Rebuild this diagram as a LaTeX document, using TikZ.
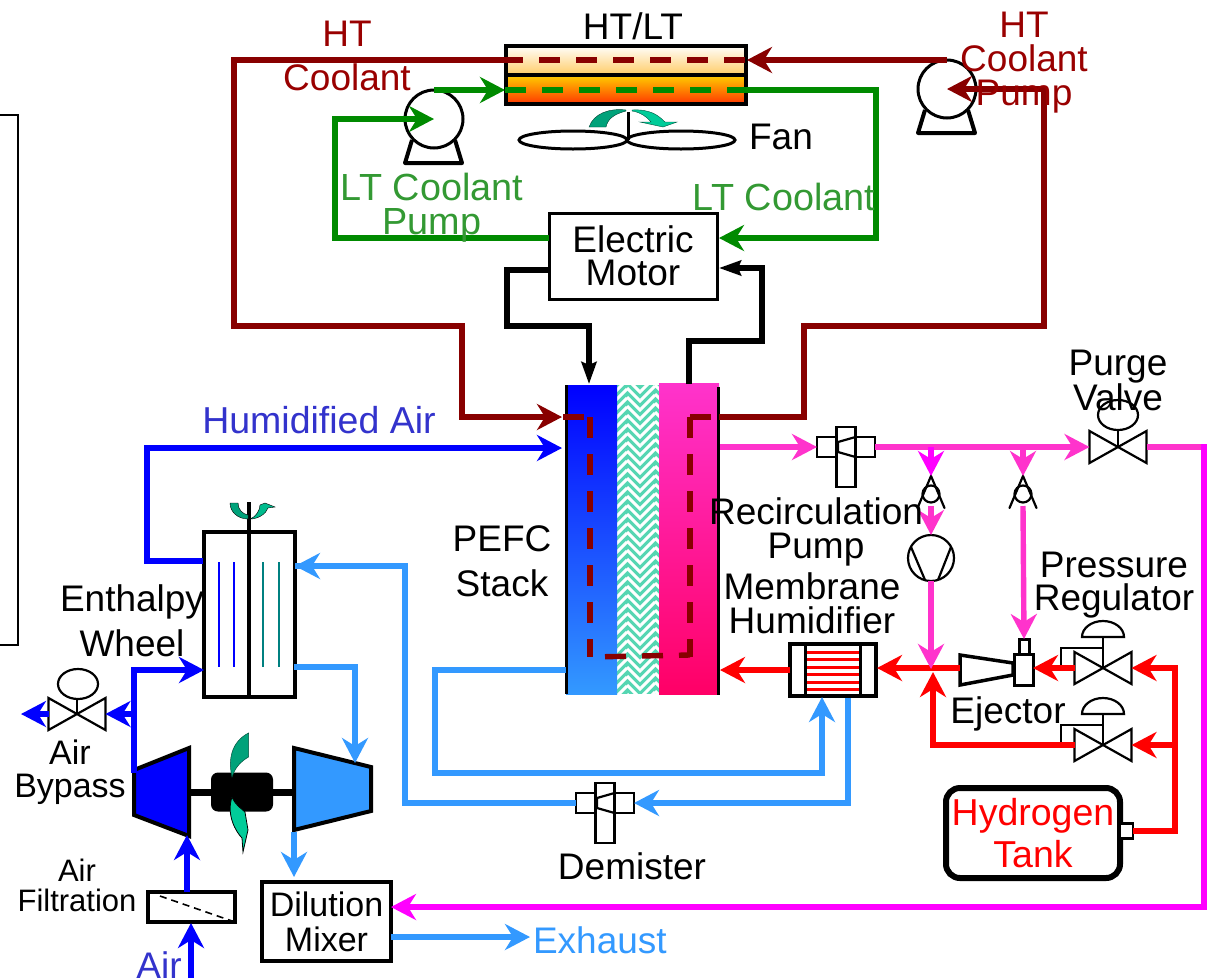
\documentclass[tikz,border=0pt]{standalone}
\usepackage{fontspec}
\setmainfont{Liberation Sans}
\usetikzlibrary{arrows.meta,shapes.geometric}
\definecolor{htc}{HTML}{880000}
\definecolor{lowc}{HTML}{008A00}
\definecolor{airc}{HTML}{0000FF}
\definecolor{exc}{HTML}{3399FF}
\definecolor{anc}{HTML}{FF33CC}
\definecolor{mgc}{HTML}{FF00FF}
\definecolor{h2c}{HTML}{FF0000}
\definecolor{cab}{HTML}{FF0066}
\definecolor{httext}{HTML}{990000}
\definecolor{lttext}{HTML}{339933}
\definecolor{airtext}{HTML}{3333CC}
\definecolor{tealA}{HTML}{00A27A}
\definecolor{tealB}{HTML}{00CC99}
\definecolor{patc}{HTML}{55D6B2}
\definecolor{hxa}{HTML}{FFCC66}
\definecolor{hxb}{HTML}{FFCC00}
\definecolor{hxc}{HTML}{FF3300}
\tikzset{
  x=1pt,y=-1pt,
  every node/.style={outer sep=0pt,inner sep=0pt},
  head/.style={-{Stealth[length=25pt,width=26pt,inset=8pt]}},
  pipe/.style={line width=5.4pt,miter limit=10},
  labelt/.style={font=\fontsize{37}{36}\selectfont,align=center,text=black},
  boxn/.style={draw=black,line width=4pt,rectangle,fill=white},
  thinbox/.style={draw=black,line width=2.2pt,rectangle,fill=white},
  shapeln/.style={draw=black,line width=2.2pt},
  heavyln/.style={draw=black,line width=4pt},
  ghost/.style={rectangle},
  dashpipe/.style={line width=5.4pt,dash pattern=on 21pt off 16pt}
}
\newcommand{\vvalve}[3]{%
  \node[ghost,minimum width=57pt,minimum height=32pt] (#1) at (#2,#3) {};
  \draw[shapeln,fill=white] (#1.north west)--(#1.south west)--(#1.north east)--(#1.south east)--cycle;
}
\newcommand{\checkv}[3]{%
  \node[ghost,minimum width=27pt,minimum height=32pt] (#1) at (#2,#3) {};
  \draw[shapeln,line cap=round] (#1.south west)--(#1.north)--(#1.south east);
  \draw[shapeln] (#2,#3+2) circle[radius=8.5];
}
\newcommand{\pumpsym}[3]{%
  \node[circle,draw=black,line width=3pt,fill=white,minimum size=58pt] (#1) at (#2,#3) {};
  \draw[heavyln,line join=round] (#2-22,#3+21)--(#2-29,#3+44)--(#2+28,#3+44)--(#2+21,#3+21);
}
\newcommand{\sepsym}[3]{%
  \node[ghost,minimum width=58pt,minimum height=20pt] (#1) at (#2,#3) {};
  \node[thinbox,minimum width=19pt,minimum height=60pt] (#1v) at (#2,#3+10) {};
  \draw[shapeln] (#2-9.5,#3-10)--(#2-29,#3-10)--(#2-29,#3+10)--(#2-9.5,#3+10);
  \draw[shapeln] (#2+9.5,#3-10)--(#2+29,#3-10)--(#2+29,#3+10)--(#2+9.5,#3+10);
  \draw[shapeln] (#2+9.5,#3-10)--(#2-8,#3-5)--(#2-8,#3+5)--(#2+9.5,#3+10);
}
\newcommand{\regul}[3]{%
  \vvalve{#1}{#2}{#3}
  \draw[shapeln] (#2,#3)--(#2,#3-31);
  \draw[shapeln,fill=white] (#2-21,#3-31) arc[start angle=180,end angle=0,x radius=21,y radius=-16]--cycle;
  \draw[shapeln] (#2-42,#3)--(#2-42,#3-20)--(#2,#3-20);
}
\begin{document}
\begin{tikzpicture}
\useasboundingbox (0,0) rectangle (1210,978);
% left open frame
\draw[line width=2pt] (0,115)--(18,115)--(18,645)--(0,645);

% heat exchanger
\node[rectangle,minimum width=240pt,minimum height=30pt,top color=white,bottom color=hxa] (hxt) at (626,60) {};
\node[rectangle,minimum width=240pt,minimum height=29pt,top color=hxb,bottom color=hxc] (hxb) at (626,90) {};
\node[draw=black,line width=4pt,minimum width=240pt,minimum height=58pt] (hx) at (626,75) {};
\draw[line width=4pt] (hx.west)--(hx.east);
\coordinate (hxHTw) at (502,60); \coordinate (hxHTe) at (747,60);
\coordinate (hxLTw) at (505,90); \coordinate (hxLTe) at (747,90);
\draw[dashpipe,draw=htc] (hxHTw)--(hxHTe);
\draw[dashpipe,draw=lowc] (hxLTw)--(hxLTe);

% fan
\draw[line width=3pt] (628,112)--(628,140);
\node[ellipse,draw=black,line width=3pt,minimum width=108pt,minimum height=18pt] (fanL) at (573,140) {};
\node[ellipse,draw=black,line width=3pt,minimum width=108pt,minimum height=18pt] (fanR) at (681,140) {};
\fill[tealA,draw=black!60!tealA,line width=.4pt] (589,127) .. controls (594,113) and (610,108) .. (626,110) -- (626,111) .. controls (615,114) and (608,118) .. (606,127) -- cycle;
\fill[tealB,draw=black!60!tealB,line width=.4pt] (632,110) .. controls (650,109) and (658,115) .. (665,122) -- (677,122) -- (663,127) -- (640,122) -- (651,122) .. controls (647,117) and (640,112) .. (632,111) -- cycle;

% pumps
\pumpsym{ltpump}{434}{119}
\pumpsym{htpump}{947}{89}

% stack
\node[rectangle,minimum width=42pt,minimum height=309pt,fill=patc] (memb) at (638,539.5) {};
\begin{scope}
  \clip (617,385) rectangle (659,694);
  \foreach \r in {-2,...,40} \foreach \c in {0,1,2,3} {
    \pgfmathsetmacro{\xa}{617+\c*14-4}
    \pgfmathsetmacro{\ya}{385+\r*9+\c*3}
    \pgfmathsetmacro{\sg}{mod(\c,2)==0?-1:1}
    \draw[white,line width=3pt] (\xa,\ya)--(\xa+14,\ya+\sg*14);
  }
\end{scope}
\node[rectangle,minimum width=51pt,minimum height=309pt,top color=airc,bottom color=exc] (anode) at (591.5,539.5) {};
\node[rectangle,minimum width=60pt,minimum height=311pt,top color=anc,bottom color=cab] (cathode) at (689,538.5) {};
\draw[line width=3pt] (anode.north west)--(anode.south west);
\draw[line width=3pt] (718.5,387)--(718.5,695);
\coordinate (stkHTw) at (563,417); \coordinate (stkHTe) at (719,417);
\draw[dashpipe,draw=htc] (stkHTw)--(590,417);
\draw[dashpipe,draw=htc] (590,417)--(590,657);
\draw[dashpipe,draw=htc,dash phase=22pt] (590,657)--(690,655);
\draw[dashpipe,draw=htc] (690,417)--(690,657);
\draw[dashpipe,draw=htc] (690,417)--(712,417);

% motor
\node[boxn,line width=3pt,minimum width=168pt,minimum height=86pt,labelt] (motor) at (633,256) {Electric\\[-3pt]Motor};
\coordinate (moLTin) at (719,238); \coordinate (moLTout) at (549,238);
\coordinate (moIn) at (719,268); \coordinate (moOut) at (549,270);

% HT loop
\coordinate (stkCoolIn) at (562,417);
\draw[pipe,draw=htc,head] (hxHTw)--(234,60)--(234,326)--(462,326)--(462,417)--(stkCoolIn);
\draw[pipe,draw=htc] (stkHTe)--(804,417)--(804,326)--(1044,326)--(1044,89)--(1000,89);
\draw[pipe,draw=htc,head] (1000,89)--(htpump.center);
\draw[pipe,draw=htc,head] (htpump.north)--(hxHTe |- htpump.north);

% LT loop
\draw[pipe,draw=lowc,head] (ltpump.north)--(hxLTw);
\draw[pipe,draw=lowc,head] (hxLTe)--(876,90)--(876,238)--(moLTin);
\draw[pipe,draw=lowc,head] (moLTout)--(335,238)--(335,119)--(ltpump.center);

% power lines
\coordinate (anTop) at (589,384);
\coordinate (caTop) at (689,384);
\draw[pipe,draw=black,-{Stealth[length=22pt,width=15pt,inset=3pt]}] (moOut)--(507,270)--(507,326)--(589,326)--(anTop);
\draw[pipe,draw=black,-{Stealth[length=22pt,width=15pt,inset=3pt]}] (caTop)--(689,341)--(762,341)--(762,268)--(moIn);

% humidifier
\node[boxn,minimum width=86pt,minimum height=52pt] (humid) at (833,670) {};
\draw[line width=3pt] (805,644)--(805,696) (860,644)--(860,696);
\foreach \y in {652,659.5,667,674.5,682,689.5} \draw[h2c,line width=3pt] (807,\y)--(859,\y);

% separators
\sepsym{recsep}{846}{447}
\sepsym{demist}{605}{803}

% enthalpy wheel
\node[boxn,minimum width=91pt,minimum height=165pt] (wheel) at (249,614.5) {};
\draw[line width=4pt] (249,502)--(249,697);
\foreach \x in {219,234} \draw[airc,line width=2.2pt] (\x,562)--(\x,667);
\foreach \x in {263,279} \draw[teal,line width=2.2pt] (\x,562)--(\x,667);
\fill[tealA,draw=black,line width=.4pt] (230,503) -- (238,503) .. controls (238,510) and (243,514) .. (248,515) -- (248,519) .. controls (238,519) and (230,512) .. (230,503) -- cycle;
\fill[tealB!60!tealA,draw=black,line width=.4pt] (250,519) .. controls (256,517) and (260,510) .. (260,505) -- (265,503) -- (275,507) -- (268,508) .. controls (266,514) and (258,519) .. (250,519) -- cycle;

% compressor / turbine
\node[ghost,minimum width=55pt,minimum height=88pt] (comp) at (161.5,792) {};
\node[ghost,minimum width=77pt,minimum height=84pt] (turb) at (332.5,790) {};
\draw[line width=7pt] (comp.east)--(comp.east -| turb.west);
\draw[heavyln,fill=airc,miter limit=10] (134,770)--(189,748)--(189,836)--(134,815)--cycle;
\draw[heavyln,fill=exc,miter limit=10] (294,748)--(371,767)--(371,811)--(294,830)--cycle;
\node[rectangle,rounded corners=7pt,fill=black,minimum width=62pt,minimum height=39pt] (hub) at (242,792) {};
\fill[tealA,draw=black!50!tealA,line width=.5pt] (248.5,733) -- (248.5,757) .. controls (240,762) and (235,768) .. (232,777) .. controls (228,760) and (231,742) .. (248.5,733) -- cycle;
\fill[tealB,draw=black,line width=.8pt] (232,797) .. controls (236,806) and (241,808) .. (245,812) -- (248,830) -- (243,852) -- (242,838) .. controls (236,832) and (226,815) .. (232,797) -- cycle;

% valves
\vvalve{bypass}{77}{714}
\draw[shapeln] (77,699)--(77,714);
\draw[shapeln,fill=white] (78,684) ellipse[x radius=20,y radius=15];
\vvalve{purge}{1118}{447}
\draw[shapeln] (1118,431)--(1118,447);
\draw[shapeln,fill=white] (1118,415) ellipse[x radius=20,y radius=15];
\checkv{chkA}{931}{492}
\checkv{chkB}{1023}{492}
\node[circle,shapeln,fill=white,minimum size=46pt] (recpump) at (931,558) {};
\draw[shapeln] (911,547)--(925,580) (951,547)--(938,580);
\regul{regA}{1103}{668}
\regul{regB}{1103}{745}

% ejector
\node[rectangle,draw=black,line width=3pt,minimum width=19pt,minimum height=31pt,fill=white] (ejbody) at (1023.5,669.5) {};
\node[rectangle,draw=black,line width=3pt,minimum width=10pt,minimum height=15pt,fill=white] (ejnoz) at (1024,646.5) {};
\node[ghost,minimum width=53pt,minimum height=30pt] (ejcone) at (986.5,668) {};
\draw[draw=black,line width=3.5pt,fill=white] (960,655)--(1013,663)--(1013,675)--(960,685)--cycle;

% tank
\node[rectangle,draw=black,line width=6pt,rounded corners=14pt,minimum width=174pt,minimum height=90pt,fill=white,font=\fontsize{37.5}{42}\selectfont,text=h2c,align=center] (tank) at (1033,833) {Hydrogen\\Tank};
\node[rectangle,draw=black,line width=2.5pt,minimum width=13pt,minimum height=15pt,fill=white] (tankfit) at (1126.5,831) {};

% other boxes
\node[boxn,minimum width=129pt,minimum height=79pt,font=\fontsize{34}{35}\selectfont,align=center] (mixer) at (326.5,921.5) {Dilution\\Mixer};
\node[thinbox,line width=3.5pt,minimum width=87pt,minimum height=30pt] (filter) at (191.5,907) {};
\draw[line width=1.6pt,dash pattern=on 7pt off 5pt] (160,896)--(232,921);

% air
\coordinate (airIn) at (191,978);
\coordinate (filtOut) at (187,892);
\coordinate (compIn) at (187,835);
\coordinate (compOut) at (134,773);
\coordinate (wheelIn) at (204,670);
\coordinate (wheelOut) at (203,561);
\coordinate (stackAirIn) at (562,448);
\coordinate (byJ) at (134,714);
\coordinate (byOut) at (21,714);
\draw[pipe,draw=airc,head] (airIn)--(191,923);
\draw[pipe,draw=airc,head] (filtOut)--(compIn);
\draw[pipe,draw=airc,head] (compOut)--(134,670)--(wheelIn);
\draw[pipe,draw=airc,head] (byJ)--(bypass.east);
\draw[pipe,draw=airc,head] (bypass.west)--(byOut);
\draw[pipe,draw=airc,head] (wheelOut)--(147,561)--(147,448)--(stackAirIn);

% exhaust
\coordinate (wheelEx) at (294,667);
\coordinate (turbIn) at (355,763);
\coordinate (turbOut) at (294,832);
\coordinate (mixIn) at (294,877);
\coordinate (mixOut) at (391,937);
\coordinate (exEnd) at (530,937);
\coordinate (stkEx) at (566,670);
\coordinate (humIn) at (822,697);
\coordinate (humOut) at (848,698);
\coordinate (wheelIn2) at (295,566);
\draw[pipe,draw=exc,head] (wheelEx)--(355,667)--(turbIn);
\draw[pipe,draw=exc,head] (turbOut)--(mixIn);
\draw[pipe,draw=exc,head] (mixOut)--(exEnd);
\draw[pipe,draw=exc,head] (stkEx)--(435,670)--(435,773)--(822,773)--(humIn);
\draw[pipe,draw=exc,head] (humOut)--(848,803)--(demist.east);
\draw[pipe,draw=exc] (demist.west)--(405,803)--(405,566)--(wheelIn2);
\draw[pipe,draw=exc,head] (405,566)--(wheelIn2);

% cathode outlet
\coordinate (caOut) at (720,447);
\coordinate (chkAtop) at (931,447);
\coordinate (chkBtop) at (1023,447);
\coordinate (jctH2) at (931,669);
\coordinate (mixCorner) at (1204,907);
\draw[pipe,draw=anc,head] (caOut)--(recsep.west);
\draw[pipe,draw=anc,head] (recsep.east)--(purge.west);
\draw[pipe,draw=mgc,head] (chkAtop)--(chkA.north);
\draw[pipe,draw=anc,head] (chkBtop)--(chkB.north);
\draw[pipe,draw=anc,head] (931,506)--(recpump.north);
\draw[pipe,draw=anc,head] (1023,506)--(ejnoz.north);
\draw[pipe,draw=anc] (purge.east)--(1204,447);
\draw[pipe,draw=mgc,head] (1204,444.3)--(mixCorner)--(mixCorner -| mixer.east);

% hydrogen
\coordinate (h2rail) at (1177.7,668);
\coordinate (h2railB) at (1175,745);
\coordinate (cathIn) at (720,670);
\coordinate (humE) at (877,668);
\draw[pipe,draw=h2c,head] (humid.west)--(cathIn);
\draw[pipe,draw=h2c,head] (ejcone.west)--(humE);
\draw[pipe,draw=h2c,head] (regA.west)--(regA.west -| ejbody.east);
\draw[pipe,draw=h2c,head] (h2rail)--(regA.east);
\draw[pipe,draw=h2c,head] (h2railB)--(regB.east);
\draw[pipe,draw=h2c] (tankfit.east)--(1175,831)--(1175,668);
\draw[pipe,draw=h2c,head] (regB.west)--(933,745)--(933,672);
\draw[pipe,draw=anc,head] (recpump.south)--(jctH2);

% labels
\node[labelt] (lbHXT) at (633,26) {HT/LT};
\node[labelt,text=httext,font=\fontsize{37}{44}\selectfont] (lbHTa) at (347,56) {HT\\Coolant};
\node[labelt,text=httext,font=\fontsize{37}{34}\selectfont] (lbHTb) at (1024,63) {HT\\Coolant\\Pump};
\node[labelt,text=lttext,font=\fontsize{37.8}{34}\selectfont] (lbLTa) at (432,208) {LT Coolant\\Pump};
\node[labelt,text=lttext,font=\fontsize{37.8}{34}\selectfont] (lbLTb) at (784,197) {LT Coolant};
\node[labelt] (lbFan) at (781,137) {Fan};
\node[labelt,text=airtext,font=\fontsize{37.5}{34}\selectfont] (lbHum) at (319,420) {Humidified Air};
\node[labelt,font=\fontsize{37}{45}\selectfont] (lbPEFC) at (502,561) {PEFC\\Stack};
\node[labelt,font=\fontsize{37}{35}\selectfont] (lbPurge) at (1118,380) {Purge\\Valve};
\node[labelt,font=\fontsize{37}{34}\selectfont] (lbRec) at (816,532) {Recirculation\\Pump};
\node[labelt,font=\fontsize{37}{34}\selectfont] (lbMem) at (812,603) {Membrane\\Humidifier};
\node[labelt,font=\fontsize{37}{33}\selectfont] (lbReg) at (1114,585) {Pressure\\Regulator};
\node[labelt] (lbEj) at (1008,714) {Ejector};
\node[labelt,font=\fontsize{37}{45}\selectfont] (lbEnt) at (132,621) {Enthalpy\\Wheel};
\node[labelt,font=\fontsize{34}{33}\selectfont] (lbByp) at (70,772) {Air\\Bypass};
\node[labelt,font=\fontsize{31}{30}\selectfont] (lbFil) at (77,885) {Air\\Filtration};
\node[labelt,font=\fontsize{37}{35}\selectfont] (lbDem) at (632,866) {Demister};
\node[labelt,text=airtext] (lbAir) at (159,965) {Air};
\node[labelt,text=exc,anchor=west] (lbEx) at (533,940) {Exhaust};
\end{tikzpicture}
\end{document}
